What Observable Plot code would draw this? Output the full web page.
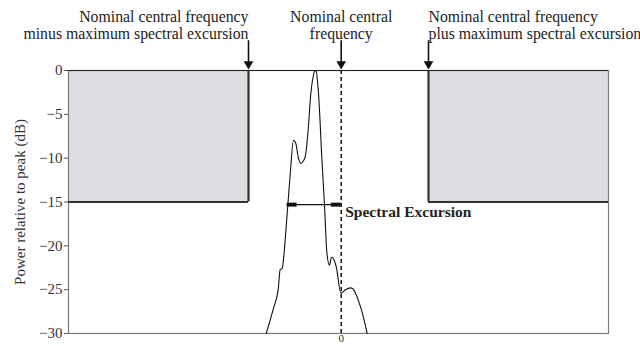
<!DOCTYPE html>
<html>
<head>
<meta charset="utf-8">
<script src="https://cdn.jsdelivr.net/npm/d3@7"></script>
<script src="https://cdn.jsdelivr.net/npm/@observablehq/plot@0.6"></script>
<style>
  html, body { margin: 0; padding: 0; background: #fff; }
  #chart { width: 640px; height: 346px; overflow: hidden; }
  svg { font-family: "Liberation Serif", "Times New Roman", serif; }
</style>
</head>
<body>
<div id="chart"></div>
<script>
// ---- data ----
const yTicks = [0, -5, -10, -15, -20, -25, -30];
const xTicks = [0];
const xDomain = [-3.03, 2.97];
const yDomain = [-30, 0];

// measured spectrum (relative frequency, dB)
const specX = [-0.833, -0.752, -0.700, -0.678, -0.655, -0.644, -0.603, -0.567, -0.530, -0.505, -0.475, -0.448, -0.420, -0.400, -0.363, -0.344, -0.310, -0.294, -0.278, -0.252, -0.214, -0.185, -0.159, -0.130, -0.108, -0.085, -0.056, -0.003, 0.048, 0.103, 0.130, 0.159, 0.200, 0.233, 0.289];
const specY = [-30.0, -27.1, -25.0, -22.7, -22.6, -21.8, -16.7, -11.9, -7.95, -8.3, -10.0, -10.6, -10.3, -9.85, -6.25, -3.4, -0.6, 0.0, -0.1, -2.65, -10.2, -15.5, -20.8, -22.2, -21.3, -21.5, -22.35, -25.4, -25.0, -24.8, -24.9, -25.4, -26.5, -27.6, -30.0];

// spectral mask boxes
const maskX1 = [-3.03, 0.97];
const maskX2 = [-1.03, 2.97];
const maskLevel = -15;
const maskInnerX = [-1.03, 0.97];

// annotation markers
const markerX = [-1.03, 0, 0.97];
const markerLabels = [
  "Nominal central frequency\nminus maximum spectral excursion",
  "Nominal central\nfrequency",
  "Nominal central frequency\nplus maximum spectral excursion"
];
const markerAnchors = ["end", "middle", "start"];
const arrowTop = 3.4;
const arrowTip = 0.75;
const labelY = 5.2;

// spectral excursion
const excursionX = [-0.6, 0];
const excursionY = -15.3;
const excursionHeads = [[-0.6, -0.49], [-0.11, 0]];
const excursionLabel = "Spectral Excursion";

// ---- build tables ----
const spectrum = specX.map((x, i) => ({x, y: specY[i]}));
const boxes = maskX1.map((x1, i) => ({x1, x2: maskX2[i]}));
const markers = markerX.map((x, i) => ({x, label: markerLabels[i], anchor: markerAnchors[i]}));
const heads = excursionHeads.map(([x1, x2]) => ({x1, x2}));

const font = "Liberation Serif, Times New Roman, serif";

const marks = [
  Plot.rect(boxes, {x1: "x1", x2: "x2", y1: maskLevel, y2: 0, fill: "#dcdde1"}),
  Plot.frame({stroke: "#7a7a7a", strokeWidth: 1.2}),
  Plot.ruleY([0], {stroke: "#222", strokeWidth: 1}),
  Plot.ruleX(maskInnerX, {y1: maskLevel, y2: 0, stroke: "#333", strokeWidth: 2.2}),
  Plot.ruleY(boxes, {x1: "x1", x2: "x2", y: maskLevel, stroke: "#333", strokeWidth: 2.2}),
  Plot.ruleX(xTicks, {y1: yDomain[0], y2: yDomain[1], stroke: "#111", strokeWidth: 1.5, strokeDasharray: "4,3"}),
  Plot.line(spectrum, {x: "x", y: "y", stroke: "#111", strokeWidth: 1.1, curve: "monotone-x"}),
  Plot.ruleY([excursionY], {x1: excursionX[0], x2: excursionX[1], stroke: "#111", strokeWidth: 1.3}),
  Plot.ruleY(heads, {x1: "x1", x2: "x2", y: excursionY, stroke: "#111", strokeWidth: 4}),
  Plot.text([excursionLabel], {x: excursionX[1], y: excursionY, dx: 4, dy: 7, text: d => d, textAnchor: "start", fontWeight: "bold", fontSize: 15.5, fontFamily: font, fill: "#222"}),
  Plot.ruleX(markers, {x: "x", y1: arrowTop, y2: arrowTip, stroke: "#111", strokeWidth: 1.6}),
  Plot.dot(markers, {x: "x", y: arrowTip, symbol: "triangle", rotate: 180, r: 3.6, fill: "#111", stroke: "none"}),
  ...markers.map((m, i) => Plot.text([m], {x: "x", y: labelY, text: "label", textAnchor: m.anchor, lineAnchor: "middle", lineHeight: 1.1, fontSize: 15.8, fontFamily: font, fill: "#222"})),
  Plot.axisY(yTicks, {tickSize: 4, tickPadding: 2, fontSize: 15, fontFamily: font, stroke: "#555", color: "#333", label: "Power relative to peak (dB)", labelAnchor: "center", labelOffset: 54, labelArrow: "none"}),
  Plot.axisX(xTicks, {tickSize: 0, tickPadding: 1, fontSize: 11, fontFamily: font, color: "#333", label: null})
];

const chart = Plot.plot({
  width: 640,
  height: 346,
  marginLeft: 68,
  marginRight: 32,
  marginTop: 70,
  marginBottom: 13,
  x: {domain: xDomain},
  y: {domain: yDomain},
  style: {fontFamily: font, fontSize: "15px", background: "#fff", color: "#333"},
  marks
});
document.getElementById("chart").appendChild(chart);
</script>
</body>
</html>
